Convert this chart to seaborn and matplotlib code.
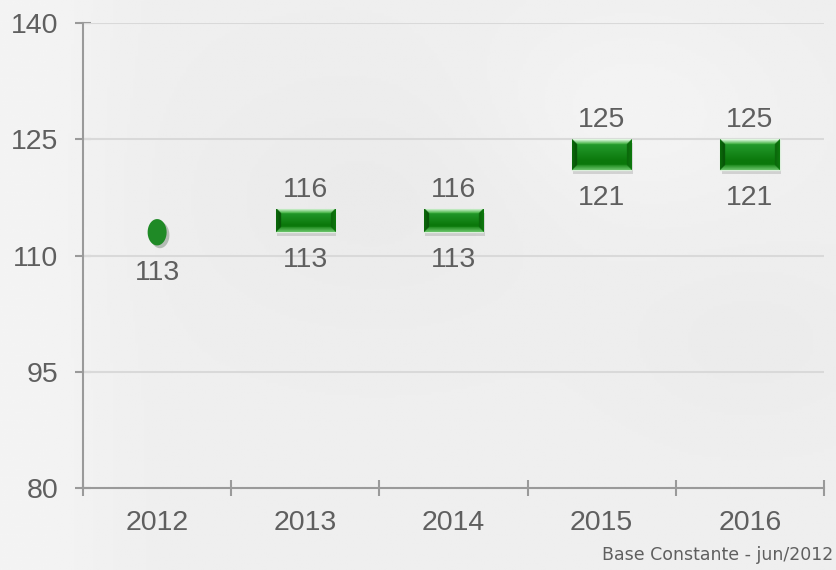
import numpy as np
import pandas as pd
import matplotlib
matplotlib.use("Agg")
import matplotlib.pyplot as plt
import matplotlib.patheffects as pe
from matplotlib.colors import to_rgb
import seaborn as sns

# values
years = ["2012", "2013", "2014", "2015", "2016"]
low_values = [113, 113, 113, 121, 121]
high_values = [113, 116, 116, 125, 125]
y_ticks = [80, 95, 110, 125, 140]
note = "Base Constante - jun/2012"

TEXT = "#5f5f5f"
AXIS = "#9a9a9a"
GRID = "#d9d9d9"
FS = 20.5

sns.set_theme(style="white")
plt.rcParams["font.family"] = ["Liberation Sans", "DejaVu Sans"]

df = pd.DataFrame({"Year": years, "Low": low_values, "High": high_values})
df["Range"] = df["High"] - df["Low"]

fig = plt.figure(figsize=(8.37, 5.70), dpi=100)

# soft grey backdrop
bg = fig.add_axes([0, 0, 1, 1], zorder=-10)
gx, gy = np.meshgrid(np.linspace(0, 1, 300), np.linspace(0, 1, 200))
field = (0.935
         + 0.02 * np.exp(-((gx - 0.03) ** 2) / 0.01)
         - 0.015 * np.exp(-((gx - 0.45) ** 2 + (gy - 0.35) ** 2) / 0.05)
         + 0.02 * np.exp(-((gx - 0.75) ** 2 + (gy - 0.2) ** 2) / 0.03)
         - 0.012 * np.exp(-((gx - 0.9) ** 2 + (gy - 0.6) ** 2) / 0.02))
bg.imshow(field, cmap="gray", vmin=0, vmax=1, aspect="auto", extent=[0, 1, 0, 1])
bg.set_axis_off()

ax = fig.add_axes([0.0992, 0.1439, 0.8853, 0.8157])
ax.set_facecolor("none")

sns.barplot(
    data=df,
    x="Year",
    y="Range",
    order=years,
    bottom=df["Low"].to_numpy(),
    width=0.4,
    color="#0e7a0e",
    edgecolor="#dcefdc",
    linewidth=1.0,
    zorder=3,
    ax=ax)

ax.set_xlim(-0.5, len(years) - 0.5)
ax.set_ylim(y_ticks[0], y_ticks[-1])


def mix(c1, c2, f):
    a, b = np.array(to_rgb(c1)), np.array(to_rgb(c2))
    return a + (b - a) * f[..., None]


def bevel_image(w_px, h_px, bevel=5.0):
    """Build an RGB image with a bevelled glossy look for one bar."""
    nx, ny = int(max(w_px, 2)) * 3, int(max(h_px, 2)) * 3
    u, v = np.meshgrid((np.arange(nx) + 0.5) / nx, (np.arange(ny) + 0.5) / ny)
    dl, dr = u * w_px, (1 - u) * w_px
    db, dt = v * h_px, (1 - v) * h_px
    # body: lighter band near the top, deeper green below
    img = mix("#0b780b", "#22982a", np.clip((v - 0.3) / 0.5, 0, 1))
    dmin = np.minimum.reduce([dl, dr, db, dt])
    inside = dmin < bevel
    frac = np.clip(dmin / bevel, 0, 1)
    faces = [
        (dl, mix("#0a6a0a", "#075007", frac)),
        (dr, mix("#0e7a0e", "#0a650a", frac)),
        (db, mix("#6cc66c", "#1f8c1f", frac)),
        (dt, mix("#f2fff2", "#3fb13f", frac)),
    ]
    for dist, col in faces:
        mask = inside & (dist == dmin)
        img[mask] = col[mask]
    return img


# glossy bevel look on the bars
for patch in ax.patches:
    if patch.get_height() <= 0:
        patch.set_visible(False)
        continue
    x0, y0 = patch.get_x(), patch.get_y()
    w, h = patch.get_width(), patch.get_height()
    (px0, py0), (px1, py1) = ax.transData.transform([(x0, y0), (x0 + w, y0 + h)])
    patch.set_path_effects([pe.SimplePatchShadow(offset=(1, -3), alpha=0.2, shadow_rgbFace="#555555"), pe.Normal()])
    im = ax.imshow(bevel_image(px1 - px0, py1 - py0), origin="lower", aspect="auto",
                   extent=[x0, x0 + w, y0, y0 + h], zorder=4, interpolation="bilinear")
    im.set_clip_path(patch)

# single value years are drawn as a point
points = df[df["Range"] == 0]
t = np.linspace(0, 2 * np.pi, 40)
ellipse = np.column_stack([0.72 * np.cos(t), np.sin(t)])
sns.stripplot(
    data=points,
    x="Year",
    y="Low",
    order=years,
    jitter=False,
    marker=ellipse,
    s=19,
    color="#1f8a26",
    linewidth=0,
    zorder=5,
    ax=ax)
for coll in ax.collections:
    coll.set_path_effects([pe.SimplePatchShadow(offset=(2, -2), alpha=0.25), pe.Normal()])

# value labels
for i, row in df.iterrows():
    if row["Range"] > 0:
        ax.annotate(str(row["High"]), (i, row["High"]), xytext=(0, 14),
                    textcoords="offset points", ha="center", va="center",
                    fontsize=FS, color=TEXT)
        ax.annotate(str(row["Low"]), (i, row["Low"]), xytext=(0, -20),
                    textcoords="offset points", ha="center", va="center",
                    fontsize=FS, color=TEXT)
    else:
        ax.annotate(str(row["Low"]), (i, row["Low"]), xytext=(0, -29),
                    textcoords="offset points", ha="center", va="center",
                    fontsize=FS, color=TEXT)

ax.set_xlim(-0.5, len(years) - 0.5)
ax.set_ylim(y_ticks[0], y_ticks[-1])
ax.set_yticks(y_ticks)
ax.set_xticks(range(len(years)))
ax.set_xticklabels(years)
ax.set_xticks(np.arange(-0.5, len(years)), minor=True)
ax.set_xlabel("")
ax.set_ylabel("")

for g in y_ticks[1:]:
    ax.axhline(g, color=GRID, linewidth=1.5, zorder=1)

for side in ["top", "right"]:
    ax.spines[side].set_visible(False)
for side in ["left", "bottom"]:
    ax.spines[side].set_color(AXIS)
    ax.spines[side].set_linewidth(1.5)
    ax.spines[side].set_zorder(2)

ax.tick_params(axis="y", direction="inout", length=12, width=1.5, color=AXIS,
               pad=12, labelsize=FS, labelcolor=TEXT, left=True)
ax.tick_params(axis="x", which="major", length=0, pad=16, labelsize=FS, labelcolor=TEXT)
ax.tick_params(axis="x", which="minor", direction="inout", length=11.5, width=1.5,
               color=AXIS, bottom=True)

fig.text(0.995, 0.027, note, ha="right", va="center", fontsize=12.5,
         color=TEXT, family=["DejaVu Sans"])

fig.savefig("out.png", dpi=100)
